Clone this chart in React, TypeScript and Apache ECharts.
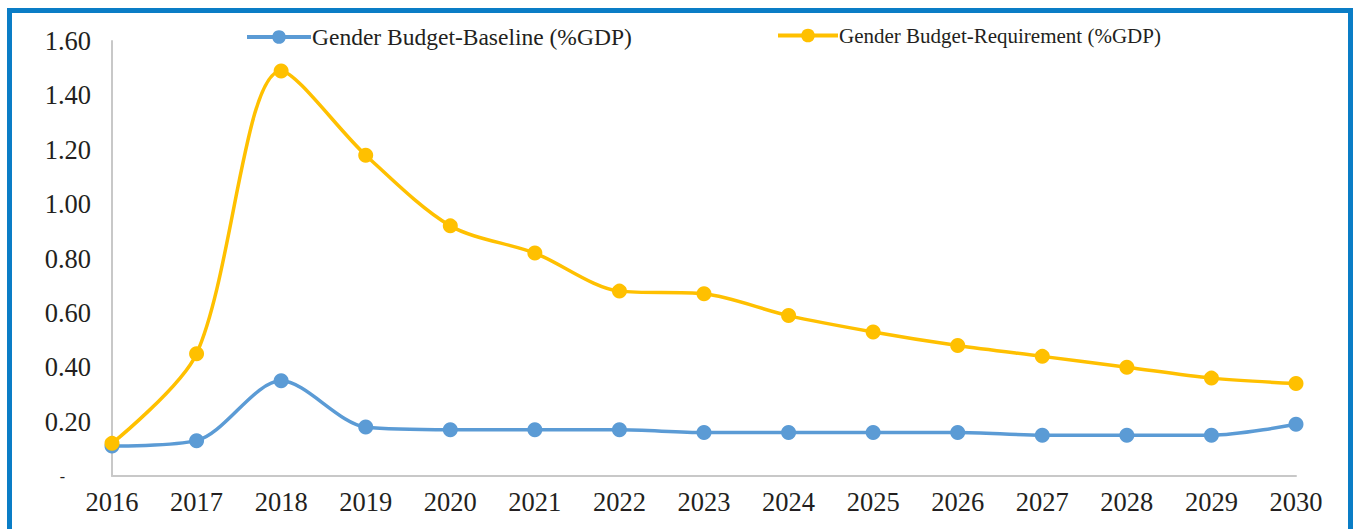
import React, { useEffect, useRef } from "react";
import * as echarts from "echarts";

const years = ["2016","2017","2018","2019","2020","2021","2022","2023","2024","2025","2026","2027","2028","2029","2030"];
const baseline = [0.11,0.13,0.35,0.18,0.17,0.17,0.17,0.16,0.16,0.16,0.16,0.15,0.15,0.15,0.19];
const requirement = [0.12,0.45,1.49,1.18,0.92,0.82,0.68,0.67,0.59,0.53,0.48,0.44,0.40,0.36,0.34];
const seriesNames = ["Gender Budget-Baseline (%GDP)", "Gender Budget-Requirement (%GDP)"];

const FONT = "'Liberation Serif', 'DejaVu Serif', serif";
const TEXT = "#231F20";

export default function App() {
  const ref = useRef<HTMLDivElement>(null);
  useEffect(() => {
    const chart = echarts.init(ref.current!, null, { renderer: "svg" });
    chart.setOption({
      animation: false,
      backgroundColor: "#ffffff",
      textStyle: { fontFamily: FONT, color: TEXT },
      graphic: [
        {
          type: "polyline",
          shape: { points: [[9.5, 529], [9.5, 10.5], [1350.5, 10.5], [1350.5, 529]] },
          style: { stroke: "#0A7DC6", lineWidth: 5, fill: "none" },
          silent: true,
        },
      ],
      legend: [
        {
          data: [seriesNames[0]],
          left: 240,
          top: 20,
          itemWidth: 64,
          itemHeight: 17,
          itemGap: 0,
          lineStyle: { width: 4 },
          textStyle: { fontFamily: FONT, fontSize: 23.5, color: TEXT, padding: [0, 0, 0, -4] },
        },
        {
          data: [seriesNames[1]],
          left: 771,
          top: 20,
          itemWidth: 60,
          itemHeight: 17,
          lineStyle: { width: 4 },
          textStyle: { fontFamily: FONT, fontSize: 21, color: TEXT, padding: [0, 0, 0, -4] },
        },
      ],
      grid: { left: 112, right: 58, top: 41, bottom: 53, containLabel: false },
      xAxis: {
        type: "category",
        data: years,
        boundaryGap: false,
        axisLine: { show: true, lineStyle: { color: "#C8C8C8", width: 2 } },
        axisTick: { show: false },
        axisLabel: { fontFamily: FONT, fontSize: 26.5, color: TEXT, margin: 12 },
      },
      yAxis: {
        type: "value",
        min: 0,
        max: 1.6,
        interval: 0.2,
        axisLine: { show: true, lineStyle: { color: "#C8C8C8", width: 2 } },
        axisTick: { show: false },
        splitLine: { show: false },
        axisLabel: {
          fontFamily: FONT,
          fontSize: 26.5,
          color: TEXT,
          margin: 21,
          formatter: (v: number) => (v === 0 ? "{d|-}" : v.toFixed(2)),
          rich: { d: { fontFamily: FONT, fontSize: 16, color: TEXT, padding: [0, 26, 0, 0] } },
        },
      },
      series: [
        {
          name: seriesNames[0],
          type: "line",
          data: baseline,
          smooth: 0.3,
          symbol: "circle",
          symbolSize: 15,
          lineStyle: { color: "#5B9BD5", width: 3.5 },
          itemStyle: { color: "#5B9BD5" },
        },
        {
          name: seriesNames[1],
          type: "line",
          data: requirement,
          smooth: 0.3,
          symbol: "circle",
          symbolSize: 15,
          lineStyle: { color: "#FFC000", width: 3.5 },
          itemStyle: { color: "#FFC000" },
        },
      ],
    });
    return () => chart.dispose();
  }, []);
  return <div ref={ref} style={{ position: "fixed", left: 0, top: 0, width: 1354, height: 529 }} />;
}
